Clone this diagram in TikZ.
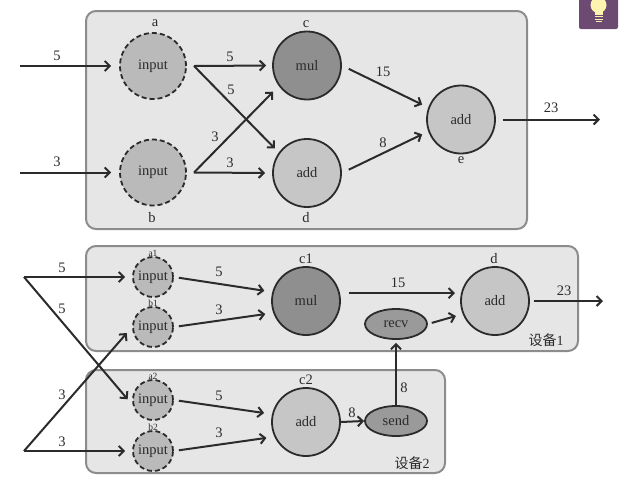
\documentclass[tikz,border=0pt]{standalone}
\usepackage{fontspec}
\setmainfont{Liberation Serif}
\newfontfamily\cjkfont{Noto Sans CJK SC}
\usetikzlibrary{arrows.meta,shapes.geometric}
\definecolor{boxfill}{HTML}{E6E6E6}
\definecolor{boxline}{HTML}{8C8C8C}
\definecolor{ink}{HTML}{2B2B2B}
\definecolor{inputfill}{HTML}{BABABA}
\definecolor{mulfill}{HTML}{8F8F8F}
\definecolor{addfill}{HTML}{C6C6C6}
\definecolor{ellfill}{HTML}{9A9A9A}
\definecolor{tipbg}{HTML}{6D4A72}
\definecolor{bulb}{HTML}{FFF3B0}
\tikzset{
  device/.style={draw=boxline,fill=boxfill,line width=2pt,rounded corners=10pt},
  opnode/.style={circle,draw=ink,line width=1.8pt,minimum size=68pt,inner sep=0pt,font=\fontsize{14.5}{14.5}\selectfont,text=ink},
  mulnode/.style={opnode,fill=mulfill},
  addnode/.style={opnode,fill=addfill},
  inbig/.style={circle,draw=ink,dash pattern=on 5pt off 3pt,line width=1.8pt,fill=inputfill,minimum size=66pt,inner sep=0pt,font=\fontsize{14.5}{14.5}\selectfont,text=ink},
  insmall/.style={inbig,minimum size=40pt},
  ellnode/.style={ellipse,draw=ink,line width=1.8pt,fill=ellfill,minimum width=62pt,minimum height=30pt,inner sep=0pt,font=\fontsize{14.5}{14.5}\selectfont,text=ink},
  arr/.style={draw=ink,line width=2pt,-{Straight Barb[length=5pt,width=10pt,line width=2pt]}},
  lab/.style={font=\fontsize{14.5}{14.5}\selectfont,text=ink,inner sep=0pt},
  tiny/.style={font=\fontsize{9.5}{9.5}\selectfont,text=ink,inner sep=0pt},
  devlab/.style={font=\fontsize{14}{14}\selectfont,text=ink,inner sep=0pt},
}
\begin{document}
\begin{tikzpicture}[x=1pt,y=-1pt]
\useasboundingbox (0,0) rectangle (630,491);
% hint icon
\begin{scope}
\clip (0,0) rectangle (630,491);
\fill[tipbg,rounded corners=2pt] (579,-5) rectangle (618,29);
\fill[bulb] (598.5,5) circle (8pt);
\fill[bulb] (594.5,8) rectangle (602.5,15);
\fill[bulb] (594.5,16) rectangle (602.5,17.3);
\fill[bulb] (594.5,18.5) rectangle (602.5,19.8);
\fill[bulb] (595.5,20.5) rectangle (601.5,22);
\end{scope}
% device boxes
\draw[device] (86,11) rectangle (527,229);
\draw[device] (86,246) rectangle (578,351);
\draw[device] (86,370) rectangle (445,473);
% top graph
\node[inbig] (a) at (153,66) {input};
\node[inbig] (b) at (153,172.5) {input};
\node[mulnode] (c) at (307,65.5) {mul};
\node[addnode] (d) at (307,173) {add};
\node[addnode] (e) at (461,119.5) {add};
\node[lab] (la) at (155,23) {a};
\node[lab] (lb) at (152,218) {b};
\node[lab] (lc) at (306,24) {c};
\node[lab] (ld) at (306,218) {d};
\node[lab] (le) at (461,160) {e};
\coordinate (in1) at (20,66);
\coordinate (in2) at (20,172.5);
\coordinate (ao) at (194,66);
\coordinate (bo) at (194,172.5);
\coordinate (out1) at (600,119.5);
\draw[arr,shorten >=8pt] (in1) -- (a.west);
\draw[arr,shorten >=8pt] (in2) -- (b.west);
\draw[arr,shorten >=6pt] (ao) -- (c.west);
\draw[arr,shorten >=5.6pt] (ao) -- (d.144);
\draw[arr,shorten >=8pt] (bo) -- (c.216);
\draw[arr,shorten >=7pt] (bo) -- (d.west);
\draw[arr,shorten <=7.6pt,shorten >=6.7pt] (c.east) -- (e.160);
\draw[arr,shorten <=7.6pt,shorten >=6.7pt] (d.east) -- (e.200);
\draw[arr,shorten <=7pt] (e.east) -- (out1);
\node[lab] (t1) at (57,56) {5};
\node[lab] (t2) at (57,162) {3};
\node[lab] (t3) at (230,57) {5};
\node[lab] (t4) at (231,90) {5};
\node[lab] (t5) at (215,137) {3};
\node[lab] (t6) at (230,163) {3};
\node[lab] (t7) at (383,72) {15};
\node[lab] (t8) at (383,143) {8};
\node[lab] (t9) at (551,108) {23};
% bottom graph
\node[insmall] (a1) at (153,277) {input};
\node[insmall] (b1) at (153,327) {input};
\node[insmall] (a2) at (153,400) {input};
\node[insmall] (b2) at (153,451) {input};
\node[mulnode] (c1) at (306,301) {mul};
\node[addnode] (c2) at (306,422) {add};
\node[addnode] (d1) at (495,301) {add};
\node[ellnode] (recv) at (396,324) {recv};
\node[ellnode] (send) at (396,421) {send};
\node[tiny] (la1) at (153,253) {a1};
\node[tiny] (lb1) at (153,303) {b1};
\node[tiny] (la2) at (153,376) {a2};
\node[tiny] (lb2) at (153,427) {b2};
\node[lab] (lc1) at (306,259) {c1};
\node[lab] (lc2) at (306,380) {c2};
\node[lab] (ld1) at (494,259) {d};
\coordinate (sp1) at (24,277);
\coordinate (sp2) at (24,451);
\coordinate (out2) at (603,301);
\draw[arr,shorten >=7pt] (sp1) -- (a1.west);
\draw[arr,shorten >=8pt] (sp1) -- (a2.195);
\draw[arr,shorten >=8pt] (sp2) -- (b1.west);
\draw[arr,shorten >=7pt] (sp2) -- (b2.west);
\draw[arr,shorten <=5pt,shorten >=8pt] (a1.east) -- (c1.165);
\draw[arr,shorten <=5pt,shorten >=8pt] (b1.east) -- (c1.200);
\draw[arr,shorten <=5pt,shorten >=8pt] (a2.east) -- (c2.167);
\draw[arr,shorten <=5pt,shorten >=8pt] (b2.east) -- (c2.205);
\draw[arr,shorten <=9pt,shorten >=6pt] (c1.13) -- (d1.167);
\draw[arr,shorten <=4pt,shorten >=7pt] (recv.east) -- (d1.202);
\draw[arr,shorten <=4pt] (d1.east) -- (out2);
\draw[arr] (c2.east) -- (send.west);
\draw[arr,shorten >=3pt] (send.north) -- (recv.south);
\node[lab] (u1) at (62,268) {5};
\node[lab] (u2) at (62,309) {5};
\node[lab] (u3) at (62,395) {3};
\node[lab] (u4) at (62,442) {3};
\node[lab] (u5) at (219,272) {5};
\node[lab] (u6) at (219,310) {3};
\node[lab] (u7) at (219,396) {5};
\node[lab] (u8) at (219,433) {3};
\node[lab] (u9) at (398,283) {15};
\node[lab] (u10) at (564,291) {23};
\node[lab] (u11) at (404,388) {8};
\node[lab] (u12) at (352,413) {8};
\node[devlab] (dev1) at (546,340) {{\cjkfont 设备}1};
\node[devlab] (dev2) at (412,463) {{\cjkfont 设备}2};
\end{tikzpicture}
\end{document}
